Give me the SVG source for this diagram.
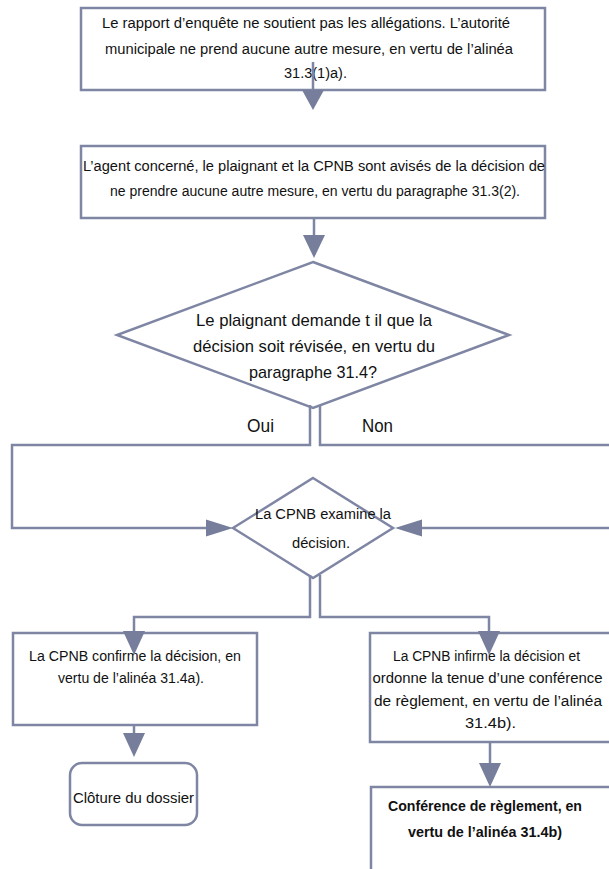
<svg xmlns="http://www.w3.org/2000/svg" width="609" height="869" viewBox="0 0 609 869">
  <style>
    .box { fill: #ffffff; stroke: #7f86a4; stroke-width: 2.5; }
    .wire { fill: none; stroke: #7f86a4; stroke-width: 2.5; }
    .head { fill: #767e9c; stroke: none; }
    text { font-family: "Liberation Sans", Arial, sans-serif; font-size: 15.5px; fill: #111111; text-anchor: middle; }
    .big { font-size: 17px; }
    .lbl { font-size: 18px; }
    .bold { font-weight: bold; }
  </style>
  <rect width="609" height="869" fill="#ffffff"/>

  <!-- nodes -->
  <g id="n-rapport">
    <rect class="box" x="81" y="8" width="464" height="82"/>
    <text x="306" y="27.5" textLength="408" lengthAdjust="spacingAndGlyphs">Le rapport d’enquête ne soutient pas les allégations. L’autorité</text>
    <text x="309" y="53.5" textLength="408" lengthAdjust="spacingAndGlyphs">municipale ne prend aucune autre mesure, en vertu de l’alinéa</text>
    <text x="315.5" y="77.5" textLength="63" lengthAdjust="spacingAndGlyphs">31.3(1)a).</text>
  </g>

  <g id="n-avis">
    <rect class="box" x="81" y="146" width="464" height="72"/>
    <text x="314" y="170.5" textLength="462" lengthAdjust="spacingAndGlyphs">L’agent concerné, le plaignant et la CPNB sont avisés de la décision de</text>
    <text x="315" y="195.5" textLength="410" lengthAdjust="spacingAndGlyphs">ne prendre aucune autre mesure, en vertu du paragraphe 31.3(2).</text>
  </g>

  <g id="n-demande">
    <polygon class="box" points="313,262 509,335 313,408 117,335"/>
    <text class="big" x="314" y="326" textLength="236" lengthAdjust="spacingAndGlyphs">Le plaignant demande t il que la</text>
    <text class="big" x="314" y="352" textLength="242" lengthAdjust="spacingAndGlyphs">décision soit révisée, en vertu du</text>
    <text class="big" x="313" y="378" textLength="128" lengthAdjust="spacingAndGlyphs">paragraphe 31.4?</text>
  </g>

  <g id="n-examen">
    <polygon class="box" points="313,478 393,528 313,578 233,528"/>
    <text x="323" y="518.5" textLength="136" lengthAdjust="spacingAndGlyphs">La CPNB examine la</text>
    <text x="321" y="547.5" textLength="58" lengthAdjust="spacingAndGlyphs">décision.</text>
  </g>

  <g id="n-confirme">
    <rect class="box" x="13" y="633" width="244" height="92"/>
    <text x="135" y="660.5" textLength="212" lengthAdjust="spacingAndGlyphs">La CPNB confirme la décision, en</text>
    <text x="131" y="682.5" textLength="146" lengthAdjust="spacingAndGlyphs">vertu de l’alinéa 31.4a).</text>
  </g>

  <g id="n-infirme">
    <rect class="box" x="370" y="633" width="245" height="109"/>
    <text x="486.5" y="660.5" textLength="187" lengthAdjust="spacingAndGlyphs">La CPNB infirme la décision et</text>
    <text x="487.5" y="682.5" textLength="230" lengthAdjust="spacingAndGlyphs">ordonne la tenue d’une conférence</text>
    <text x="488" y="705.5" textLength="228" lengthAdjust="spacingAndGlyphs">de règlement, en vertu de l’alinéa</text>
    <text x="490.5" y="727.5" textLength="51" lengthAdjust="spacingAndGlyphs">31.4b).</text>
  </g>

  <g id="n-cloture">
    <rect class="box" x="70" y="763" width="127" height="62" rx="12" ry="12"/>
    <text x="133.5" y="802.5" textLength="121" lengthAdjust="spacingAndGlyphs">Clôture du dossier</text>
  </g>

  <g id="n-conference">
    <rect class="box" x="371" y="787" width="245" height="100"/>
    <text class="bold" x="485" y="811" textLength="194" lengthAdjust="spacingAndGlyphs">Conférence de règlement, en</text>
    <text class="bold" x="485" y="837" textLength="154" lengthAdjust="spacingAndGlyphs">vertu de l’alinéa 31.4b)</text>
  </g>

  <!-- connectors -->
  <g id="connectors">
    <path class="wire" d="M313,62 V92"/>
    <polygon class="head" points="302,90 324,90 313,110"/>

    <path class="wire" d="M314,218 V237"/>
    <polygon class="head" points="303,235 325,235 314,258"/>

    <path class="wire" d="M310,405 V445 H12 V528 H208"/>
    <polygon class="head" points="206,519.5 206,536.5 233,528"/>
    <path class="wire" d="M320,405 V445 H613 V528 H420"/>
    <polygon class="head" points="422,519.5 422,536.5 395,528"/>
    <text class="lbl" x="260.5" y="431.5" textLength="27" lengthAdjust="spacingAndGlyphs">Oui</text>
    <text class="lbl" x="377.5" y="431.5" textLength="31" lengthAdjust="spacingAndGlyphs">Non</text>

    <path class="wire" d="M310,575 V617 H134 V633"/>
    <polygon class="head" points="123,631 145,631 134,655"/>
    <path class="wire" d="M320,575 V617 H489 V633"/>
    <polygon class="head" points="478,631 500,631 489,655"/>

    <path class="wire" d="M134,725 V735"/>
    <polygon class="head" points="123,733 145,733 134,757"/>

    <path class="wire" d="M490,742 V765"/>
    <polygon class="head" points="479,763 501,763 490,787"/>
  </g>
</svg>
